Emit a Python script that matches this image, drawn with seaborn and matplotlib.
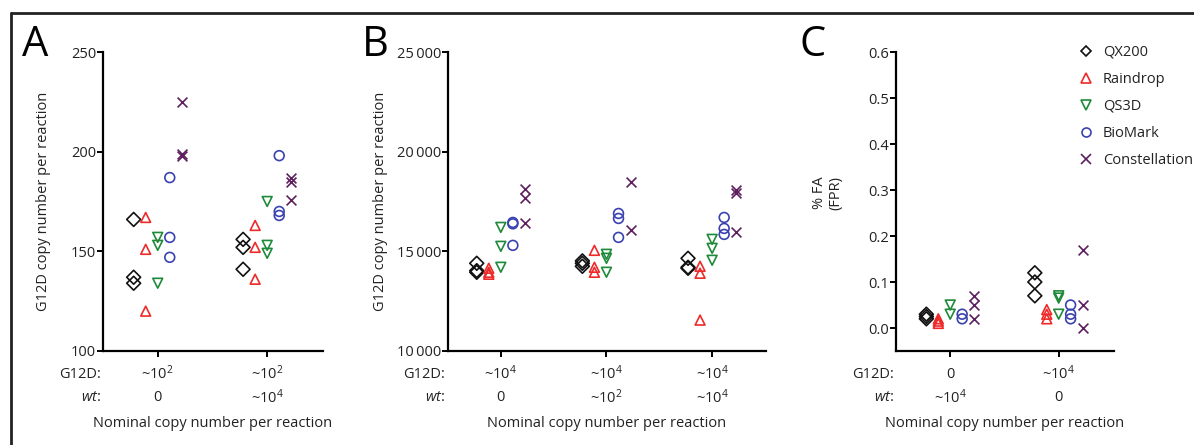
import seaborn as sns
import matplotlib.pyplot as plt
import matplotlib.transforms as mtransforms
from matplotlib.lines import Line2D
import pandas as pd
import numpy as np

sns.set_style("white")
plt.rcParams["font.family"] = ["Open Sans", "DejaVu Sans"]
plt.rcParams["mathtext.fontset"] = "custom"
plt.rcParams["mathtext.rm"] = "Open Sans"
plt.rcParams["mathtext.it"] = "Open Sans:italic"

FS = 10.5
TXT = "#222222"

# instruments / colours / markers
instruments = ["QX200", "Raindrop", "QS3D", "BioMark", "Constellation"]
colors = ["#111111", "#ee2a2a", "#1f8a3a", "#3a42b0", "#5e1f5e"]
markers = ["D", "^", "v", "o", "x"]

# ---- panel A: G12D copies, G12D ~10^2 ----
a_g12d = ["~10$^2$", "~10$^2$"]
a_wt = ["0", "~10$^4$"]
a_qx200 = [[166, 137, 134], [156, 152, 141]]
a_raindrop = [[167, 151, 120], [163, 152, 136]]
a_qs3d = [[157, 153, 134], [175, 153, 149]]
a_biomark = [[187, 157, 147], [198, 170, 168]]
a_constellation = [[225, 199, 198], [187, 185, 176]]

# ---- panel B: G12D copies, G12D ~10^4 ----
b_g12d = ["~10$^4$", "~10$^4$", "~10$^4$"]
b_wt = ["0", "~10$^2$", "~10$^4$"]
b_qx200 = [[14400, 14030, 13950], [14520, 14400, 14250], [14650, 14200, 14150]]
b_raindrop = [[14150, 13950, 13850], [15050, 14200, 13950], [14250, 13900, 11550]]
b_qs3d = [[16200, 15250, 14200], [14850, 14650, 13950], [15600, 15150, 14550]]
b_biomark = [[16450, 16380, 15300], [16900, 16650, 15700], [16700, 16150, 15850]]
b_constellation = [[18150, 17700, 16420], [18500, 16050], [18100, 17950, 15950]]

# ---- panel C: % false alarm ----
c_g12d = ["0", "~10$^4$"]
c_wt = ["~10$^4$", "0"]
c_qx200 = [[0.03, 0.025, 0.02], [0.12, 0.10, 0.07]]
c_raindrop = [[0.02, 0.015, 0.01], [0.04, 0.03, 0.02]]
c_qs3d = [[0.05, 0.03], [0.07, 0.065, 0.03]]
c_biomark = [[0.03, 0.02], [0.05, 0.03, 0.02]]
c_constellation = [[0.07, 0.05, 0.02], [0.17, 0.05, 0.0]]


def to_frame(series, step):
    rows = []
    for k, (name, groups) in enumerate(zip(instruments, series)):
        for ci, vals in enumerate(groups):
            for v in vals:
                rows.append({"instrument": name, "cat": ci,
                             "x": ci + (k - 2) * step, "y": v})
    return pd.DataFrame(rows)


fig = plt.figure(figsize=(11.94, 4.45), dpi=100)
W, H = 1194, 445


def add_panel(left, right, series, step, g12d, wt, ylim, yticks, yfmt, letter, letter_x):
    ax = fig.add_axes([left / W, (H - 351) / H, (right - left) / W, 299 / H])
    df = to_frame(series, step)
    filled = df[df["instrument"] != "Constellation"]
    sns.scatterplot(data=filled, x="x", y="y", hue="instrument", style="instrument",
                    hue_order=instruments[:4], style_order=instruments[:4],
                    palette=colors[:4], markers=markers[:4], s=50, legend=False, ax=ax)
    pc = ax.collections[0]
    pc.set_edgecolors(pc.get_facecolors())
    pc.set_facecolors("none")
    pc.set_linewidths(1.2)
    sns.scatterplot(data=df[df["instrument"] == "Constellation"], x="x", y="y",
                    marker="x", color=colors[4], s=50, linewidth=1.2, legend=False, ax=ax)
    n = len(g12d)
    ax.set_xlim(-0.5, n - 0.49)
    ax.set_ylim(*ylim)
    ax.set_xticks(range(n))
    ax.set_xticklabels([])
    ax.set_yticks(yticks)
    ax.set_yticklabels([yfmt(v) for v in yticks], fontsize=FS, color=TXT)
    ax.set_xlabel("")
    ax.set_ylabel("")
    for s in ["top", "right"]:
        ax.spines[s].set_visible(False)
    for s in ["left", "bottom"]:
        ax.spines[s].set_linewidth(1.6)
        ax.spines[s].set_color("black")
    ax.tick_params(axis="both", direction="out", length=4, width=1.4, color="black",
                   left=True, bottom=True, pad=1)
    trans = mtransforms.blended_transform_factory(ax.transData, ax.transAxes)
    for i in range(n):
        ax.text(i, -0.077, g12d[i], transform=trans, ha="center", va="center",
                fontsize=FS, color=TXT)
        ax.text(i, -0.157, wt[i], transform=trans, ha="center", va="center",
                fontsize=FS, color=TXT)
    ax.text(-0.01, -0.077, "G12D:", transform=ax.transAxes, ha="right", va="center",
            fontsize=FS, color=TXT)
    ax.text(-0.01, -0.157, r"$\mathit{wt}$:", transform=ax.transAxes, ha="right",
            va="center", fontsize=FS, color=TXT)
    ax.text(0.5, -0.244, "Nominal copy number per reaction", transform=ax.transAxes,
            ha="center", va="center", fontsize=FS, color=TXT)
    fig.text(letter_x / W, (H - 45) / H, letter, ha="center", va="center",
             fontsize=30, color="black")
    return ax


ax_a = add_panel(103, 323, [a_qx200, a_raindrop, a_qs3d, a_biomark, a_constellation],
                 0.11, a_g12d, a_wt, (100, 250), [100, 150, 200, 250],
                 lambda v: f"{v:d}", "A", 35)
ax_a.set_ylabel("G12D copy number per reaction", fontsize=FS, color=TXT)
ax_a.yaxis.set_label_coords(-0.235, 0.5)

ax_b = add_panel(448, 766, [b_qx200, b_raindrop, b_qs3d, b_biomark, b_constellation],
                 0.114, b_g12d, b_wt, (10000, 25000), [10000, 15000, 20000, 25000],
                 lambda v: f"{v // 1000:d}\u2009000", "B", 375)
ax_b.set_ylabel("G12D copy number per reaction", fontsize=FS, color=TXT)
ax_b.yaxis.set_label_coords(-0.19, 0.5)

ax_c = add_panel(896, 1114, [c_qx200, c_raindrop, c_qs3d, c_biomark, c_constellation],
                 0.11, c_g12d, c_wt, (-0.05, 0.6), [0.0, 0.1, 0.2, 0.3, 0.4, 0.5, 0.6],
                 lambda v: f"{v:.1f}", "C", 813)
ax_c.set_ylabel("% FA\n(FPR)", fontsize=FS, color=TXT, linespacing=1.1)
ax_c.yaxis.set_label_coords(-0.243, 0.53)

handles = [Line2D([], [], linestyle="none", marker=m, markersize=6.5 if m != "D" else 5.5,
                  markerfacecolor="none", markeredgecolor=c, markeredgewidth=1.2)
           for m, c in zip(markers, colors)]
fig.legend(handles, instruments, loc="upper left", bbox_to_anchor=(1079 / W, (H - 45) / H),
           frameon=False, fontsize=FS, handlelength=1.0, handletextpad=0.65,
           labelspacing=0.82, borderpad=0, borderaxespad=0, labelcolor=TXT)

# outer frame (top and left edge)
fig.add_artist(Line2D([11 / W, 1.0], [(H - 13) / H, (H - 13) / H], color=TXT,
                      linewidth=2, transform=fig.transFigure))
fig.add_artist(Line2D([11 / W, 11 / W], [0.0, (H - 13) / H], color=TXT,
                      linewidth=2, transform=fig.transFigure))

fig.savefig("out.png", dpi=100)
plt.close()
